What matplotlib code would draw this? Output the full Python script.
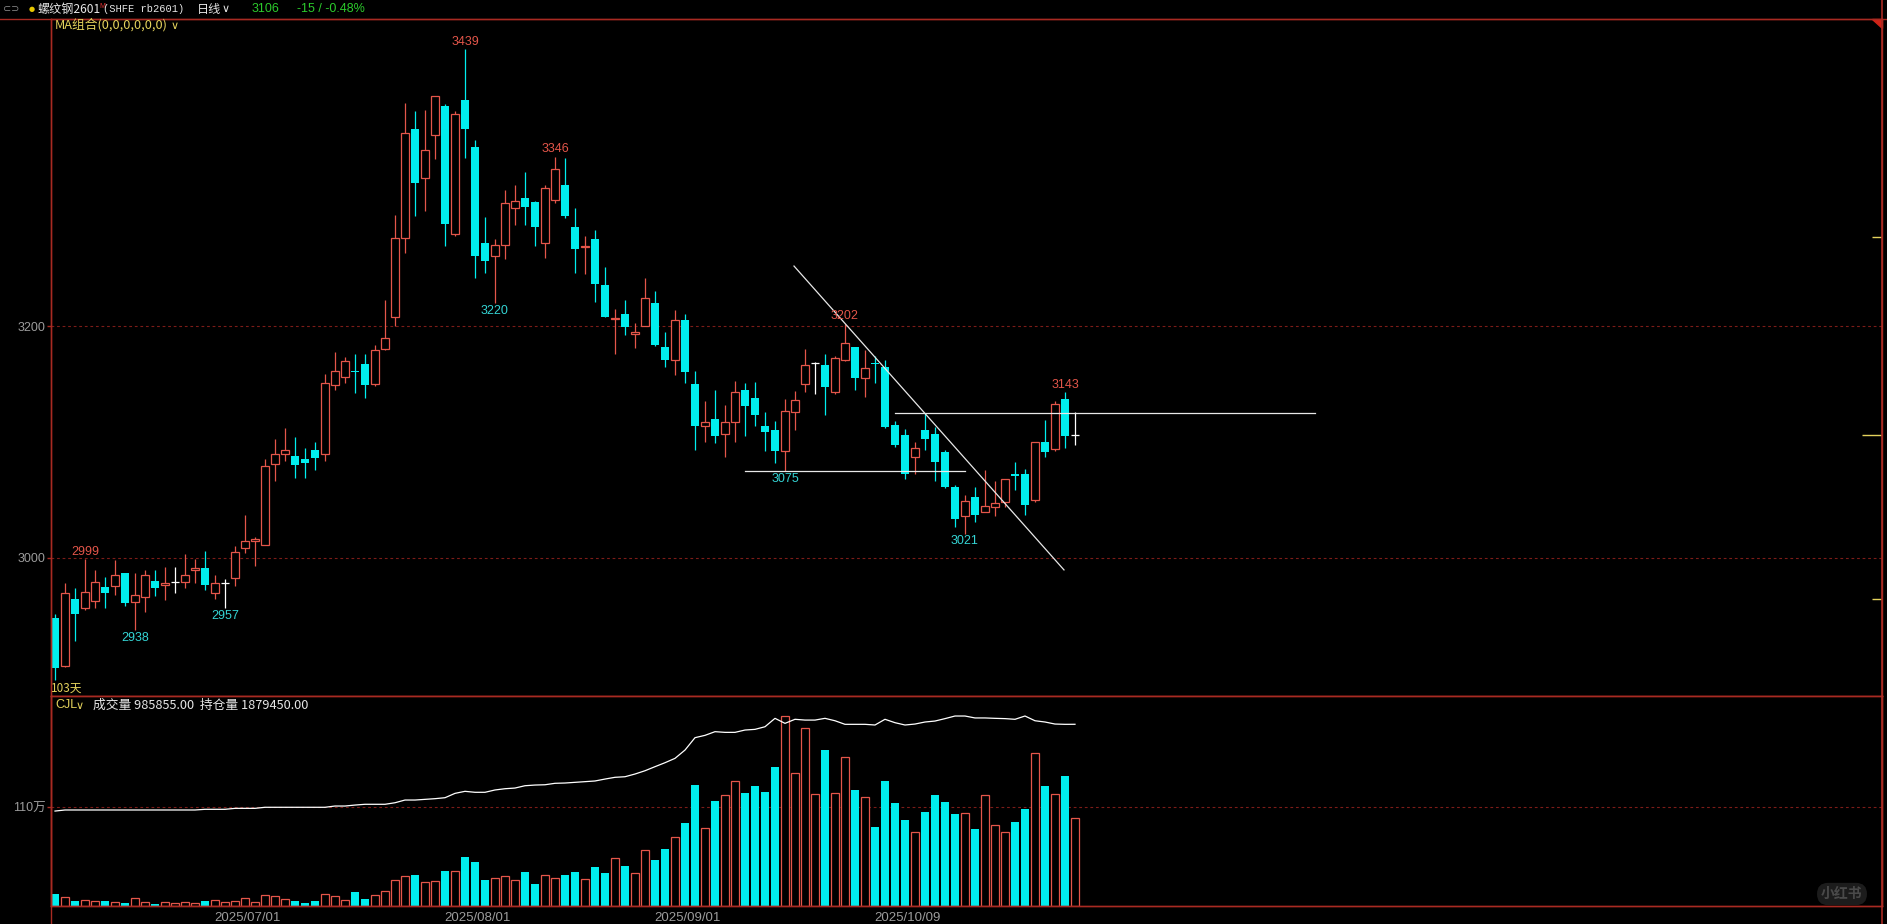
import numpy as np
import matplotlib
matplotlib.use('Agg')
import matplotlib.pyplot as plt
import matplotlib.transforms as mtransforms
from matplotlib.patches import Polygon
from matplotlib.lines import Line2D

plt.rcParams['font.family'] = ['Liberation Sans', 'Noto Sans CJK SC', 'DejaVu Sans']

# daily bars, 2025/06/04 .. 2025/11/03 (103 trading days)
opens = [2948, 2907, 2965, 2957, 2963, 2975, 2976, 2987, 2962, 2966,
         2980, 2977, 2979, 2979, 2990, 2991, 2970, 2978, 2983, 3009,
         3015, 3011, 3081, 3090, 3088, 3085, 3093, 3090, 3149, 3156,
         3161, 3167, 3150, 3180, 3208, 3276, 3370, 3328, 3365, 3390,
         3279, 3395, 3354, 3272, 3260, 3270, 3302, 3310, 3307, 3272,
         3309, 3322, 3285, 3268, 3275, 3235, 3206, 3210, 3193, 3200,
         3220, 3182, 3171, 3205, 3150, 3114, 3120, 3107, 3117, 3145,
         3138, 3114, 3110, 3092, 3126, 3150, 3168, 3166, 3143, 3171,
         3182, 3155, 3168, 3165, 3115, 3106, 3087, 3110, 3107, 3091,
         3061, 3036, 3053, 3040, 3044, 3048, 3072, 3072, 3050, 3100,
         3094, 3137, 3106]
highs = [2952, 2978, 2974, 2999, 2990, 2984, 2998, 2987, 2987, 2990,
         2990, 2992, 2992, 3003, 2999, 3006, 2985, 2982, 3010, 3037,
         3018, 3085, 3103, 3112, 3104, 3095, 3100, 3159, 3178, 3173,
         3176, 3176, 3184, 3222, 3296, 3392, 3385, 3386, 3398, 3391,
         3385, 3439, 3360, 3294, 3275, 3317, 3322, 3333, 3308, 3322,
         3346, 3345, 3302, 3278, 3283, 3251, 3215, 3222, 3203, 3241,
         3230, 3195, 3214, 3210, 3161, 3135, 3145, 3132, 3153, 3151,
         3152, 3126, 3118, 3137, 3144, 3180, 3169, 3176, 3174, 3202,
         3182, 3179, 3174, 3171, 3118, 3111, 3100, 3125, 3113, 3093,
         3063, 3054, 3061, 3076, 3066, 3068, 3083, 3077, 3100, 3119,
         3135, 3143, 3126]
lows = [2895, 2906, 2928, 2955, 2957, 2957, 2968, 2959, 2938, 2953,
        2967, 2964, 2970, 2974, 2978, 2972, 2965, 2957, 2976, 3004,
        2993, 3011, 3066, 3084, 3069, 3069, 3076, 3084, 3145, 3151,
        3142, 3138, 3148, 3179, 3200, 3263, 3295, 3299, 3344, 3269,
        3278, 3345, 3241, 3246, 3220, 3258, 3287, 3287, 3269, 3259,
        3306, 3293, 3246, 3245, 3221, 3208, 3176, 3192, 3181, 3200,
        3183, 3165, 3158, 3151, 3093, 3100, 3099, 3087, 3100, 3105,
        3114, 3092, 3082, 3075, 3110, 3143, 3141, 3123, 3141, 3170,
        3145, 3139, 3151, 3112, 3096, 3068, 3072, 3093, 3066, 3060,
        3027, 3021, 3031, 3040, 3036, 3044, 3059, 3037, 3048, 3087,
        3092, 3095, 3097]
closes = [2905, 2970, 2952, 2971, 2979, 2970, 2985, 2961, 2968, 2985,
          2974, 2978, 2979, 2985, 2991, 2977, 2978, 2978, 3005, 3015,
          3016, 3079, 3090, 3093, 3080, 3082, 3086, 3151, 3161, 3170,
          3160, 3149, 3179, 3190, 3276, 3366, 3323, 3352, 3398, 3288,
          3383, 3370, 3260, 3256, 3270, 3306, 3308, 3303, 3285, 3319,
          3335, 3295, 3266, 3269, 3236, 3208, 3207, 3199, 3195, 3224,
          3184, 3171, 3205, 3160, 3114, 3117, 3105, 3117, 3143, 3131,
          3123, 3109, 3092, 3127, 3136, 3166, 3168, 3147, 3172, 3185,
          3155, 3164, 3167, 3113, 3097, 3072, 3095, 3103, 3083, 3061,
          3034, 3049, 3037, 3045, 3047, 3068, 3071, 3046, 3100, 3091,
          3133, 3105, 3106]
# volume and open interest, in 万
volumes = [13.4, 9.7, 5.6, 6.3, 5.2, 5.6, 4.1, 3.3, 8.6, 4.1,
           2.2, 4.1, 3.0, 4.1, 3.0, 5.6, 6.3, 4.1, 5.6, 8.6,
           4.1, 11.9, 10.8, 7.5, 5.6, 3.3, 5.6, 13.0, 10.8, 6.3,
           15.6, 7.8, 11.9, 16.4, 28.6, 33.1, 34.6, 26.4, 27.5, 39.0,
           39.0, 54.6, 49.0, 29.0, 30.9, 33.1, 28.6, 37.9, 24.5, 34.6,
           30.9, 34.6, 37.9, 29.8, 43.5, 36.8, 53.2, 44.6, 36.4, 62.1,
           51.3, 63.5, 76.9, 92.5, 134.9, 87.0, 117.1, 123.4, 139.4, 126.0,
           133.8, 127.1, 155.0, 211.8, 147.9, 198.1, 124.5, 173.9, 125.6, 165.8,
           129.3, 121.5, 88.1, 139.4, 114.8, 95.9, 82.2, 104.8, 123.7, 115.9,
           102.6, 103.3, 85.8, 123.4, 90.0, 82.2, 93.6, 108.1, 170.2, 133.8,
           124.5, 144.9, 98.5855]
open_interest = [98.2, 99.3, 99.3, 99.3, 99.3, 99.3, 99.3, 99.3, 99.3, 99.3,
                 99.3, 99.3, 99.3, 99.3, 99.3, 100.0, 100.0, 100.0, 101.0, 101.0,
                 101.0, 102.1, 102.1, 102.1, 102.1, 102.1, 102.1, 102.1, 103.4, 103.4,
                 104.4, 105.2, 105.2, 105.2, 106.8, 109.6, 109.6, 110.3, 111.0, 112.0,
                 116.5, 118.6, 117.6, 117.6, 120.0, 121.3, 122.0, 124.4, 125.1, 125.4,
                 126.9, 127.2, 127.9, 128.6, 129.3, 131.3, 133.1, 133.7, 136.5, 139.9,
                 144.1, 148.2, 152.7, 161.3, 174.1, 176.5, 180.3, 179.6, 179.6, 182.0,
                 182.7, 185.4, 194.1, 188.9, 193.1, 192.3, 192.3, 194.1, 191.6, 187.9,
                 187.9, 187.9, 187.2, 193.1, 189.6, 187.2, 188.2, 190.3, 191.3, 193.8,
                 196.5, 196.5, 194.5, 194.5, 194.1, 193.8, 193.1, 196.5, 191.6, 190.3,
                 188.2, 187.9, 187.945]

date_ticks = ['2025/07/01', '2025/08/01', '2025/09/01', '2025/10/09']
date_tick_idx = [19, 42, 63, 85]
price_ticks = [3000, 3200]
volume_ticks = [110]
high_marks = [3, 41, 50, 79, 101]
low_marks = [8, 17, 44, 73, 91]

# hand-drawn lines on the chart: (x0, x1), (y0, y1) in bar index / price
drawn_lines = [((73.9, 100.9), (3251.7, 2989.7)),
               ((69, 91), (3075, 3075)),
               ((84, 126), (3124.6, 3124.6))]
right_marks = [3277, 3106, 2965]
right_mark_len = [0.0055, 0.011, 0.0055]

AXIS_RED = '#a82a22'
GRID_RED = '#7c1c18'
RED = '#e4564a'
CYAN = '#00eeee'
GRAY = '#9c9c9c'
YELLOW = '#e4d25c'
GREEN = '#2ccc2c'

W, H = 1887, 924
fig = plt.figure(figsize=(W / 100, H / 100), dpi=100, facecolor='black')


def fx(px):
    return px / W


def fy(py):
    return 1 - py / H


ax = fig.add_axes([fx(51), fy(696), fx(1882) - fx(51), fy(19) - fy(696)])
axv = fig.add_axes([fx(51), fy(906), fx(1882) - fx(51), fy(696) - fy(906)], sharex=ax)
axoi = axv.twinx()

o = np.array(opens, dtype=float)
h = np.array(highs, dtype=float)
l = np.array(lows, dtype=float)
c = np.array(closes, dtype=float)
x = np.arange(len(o))
up = c > o
down = c < o
flat = c == o

# candles
ax.vlines(x[down], l[down], h[down], color=CYAN, linewidth=0.9)
ax.bar(x[down], o[down] - c[down], bottom=c[down], width=0.85, color=CYAN, linewidth=0)
ax.vlines(x[up], c[up], h[up], color=RED, linewidth=0.9)
ax.vlines(x[up], l[up], o[up], color=RED, linewidth=0.9)
ax.bar(x[up], c[up] - o[up], bottom=o[up], width=0.78, facecolor='black', edgecolor=RED, linewidth=0.9)
ax.vlines(x[flat], l[flat], h[flat], color='white', linewidth=0.9)
ax.hlines(c[flat], x[flat] - 0.42, x[flat] + 0.42, color='white', linewidth=0.9)

for (xs, ys) in drawn_lines:
    ax.plot(xs, ys, color='#e8e8e8', linewidth=0.9)

for i in high_marks:
    ax.annotate(f'{highs[i]}', (i, highs[i]), xytext=(0, 5.2), textcoords='offset points',
                ha='center', va='center', color=RED, fontsize=9)
for i in low_marks:
    ax.annotate(f'{lows[i]}', (i, lows[i]), xytext=(0, -5.6), textcoords='offset points',
                ha='center', va='center', color='#34d4d4', fontsize=9)

for y in price_ticks:
    ax.axhline(y, color=GRID_RED, linewidth=0.8, linestyle=(0, (2.5, 2.5)), zorder=0)
for y, ln in zip(right_marks, right_mark_len):
    ax.hlines(y, 1 - ln, 1, transform=ax.get_yaxis_transform(), color=YELLOW, linewidth=1)

ax.set_xlim(-0.4, 182.7)
ax.set_ylim(2881.0, 3464.7)
ax.set_yticks(price_ticks)
ax.tick_params(axis='y', colors=AXIS_RED, labelcolor=GRAY, length=3, width=1, labelsize=9, pad=1)
ax.tick_params(axis='x', bottom=False, labelbottom=False)

# volume panel
v = np.array(volumes)
vup = c >= o
axv.bar(x[~vup], v[~vup], width=0.85, color=CYAN, linewidth=0)
axv.bar(x[vup], v[vup], width=0.78, facecolor='black', edgecolor=RED, linewidth=0.9)
axv.set_ylim(0, 234.1)
axv.set_yticks(volume_ticks)
axv.set_yticklabels([f'{t}万' for t in volume_ticks])
for y in volume_ticks:
    axv.axhline(y, color=GRID_RED, linewidth=0.8, linestyle=(0, (2.5, 2.5)), zorder=0)
axv.tick_params(axis='y', colors=AXIS_RED, labelcolor=GRAY, length=3, width=1, labelsize=9, pad=1)
axv.set_xticks(date_tick_idx)
axv.set_xticklabels(date_ticks)
axv.tick_params(axis='x', length=0, labelcolor=GRAY, labelsize=9.5, pad=4)
shift = mtransforms.ScaledTranslation(3 / 100, 0, fig.dpi_scale_trans)
for lab in axv.get_xticklabels():
    lab.set_transform(lab.get_transform() + shift)

axoi.plot(x, open_interest, color='white', linewidth=0.9)
axoi.set_ylim(0, 217.2)
axoi.set_yticks([])

for a in (ax, axv, axoi):
    a.set_facecolor('none')
    for s in a.spines.values():
        s.set_color(AXIS_RED)
        s.set_linewidth(1)
axv.set_facecolor('black')
ax.set_facecolor('black')
axoi.set_zorder(axv.get_zorder() + 1)
axv.set_zorder(axoi.get_zorder() - 1)

# frame lines outside the panels
fig.add_artist(Line2D([0, 1], [fy(19), fy(19)], color=AXIS_RED, linewidth=1))
fig.add_artist(Line2D([fx(51), fx(51)], [0, fy(19)], color=AXIS_RED, linewidth=1))
fig.add_artist(Line2D([fx(1882), fx(1882)], [0, 1], color=AXIS_RED, linewidth=1.2))
fig.add_artist(Polygon([[fx(1872), fy(19)], [fx(1882), fy(19)], [fx(1882), fy(28)]],
                       closed=True, transform=fig.transFigure, color='#d02418'))

# header
cjk = ['Noto Sans CJK SC', 'DejaVu Sans']
fig.text(fx(3), fy(9), '⊂⊃', color='#8a8a8a', fontsize=7, va='center', family=['DejaVu Sans'])
fig.text(fx(29), fy(9), '●', color='#e8c800', fontsize=5, va='center', family=['DejaVu Sans'])
fig.text(fx(38), fy(9), '螺纹钢2601', color='#e6e6e6', fontsize=8.7, va='center', family=cjk)
fig.text(fx(99), fy(6), 'M', color='#e03030', fontsize=5, va='center')
fig.text(fx(103), fy(9), '(SHFE rb2601)', color='#e6e6e6', fontsize=7.5, va='center', family=['Liberation Mono'])
fig.text(fx(197), fy(9), '日线', color='#e6e6e6', fontsize=8.7, va='center', family=cjk)
fig.text(fx(222), fy(9), '∨', color='#e6e6e6', fontsize=8, va='center', family=['DejaVu Sans'])
fig.text(fx(252), fy(9), '3106', color=GREEN, fontsize=9, va='center')
fig.text(fx(297), fy(9), '-15 / -0.48%', color=GREEN, fontsize=9, va='center')
fig.text(fx(55), fy(25), 'MA组合(0,0,0,0,0,0)', color=YELLOW, fontsize=9.2, va='center', family=cjk)
fig.text(fx(171), fy(26), '∨', color=YELLOW, fontsize=8, va='center', family=['DejaVu Sans'])

fig.text(fx(51), fy(688), '103天', color=YELLOW, fontsize=8.5, va='center', family=cjk)
fig.text(fx(55), fy(705), 'CJL', color=YELLOW, fontsize=9, va='center')
fig.text(fx(76), fy(706), '∨', color=YELLOW, fontsize=8, va='center', family=['DejaVu Sans'])
fig.text(fx(93), fy(705), '成交量 985855.00  持仓量 1879450.00', color='#e6e6e6', fontsize=9.2,
         va='center', family=cjk)

fig.text(fx(1842), fy(894), '小红书', color='#4a4a4a', fontsize=10, fontweight='bold',
         ha='center', va='center', family=cjk,
         bbox=dict(boxstyle='round,pad=0.3,rounding_size=0.8', fc='#1c1c1c', ec='none'))

fig.savefig('out.png', dpi=100, facecolor='black')
